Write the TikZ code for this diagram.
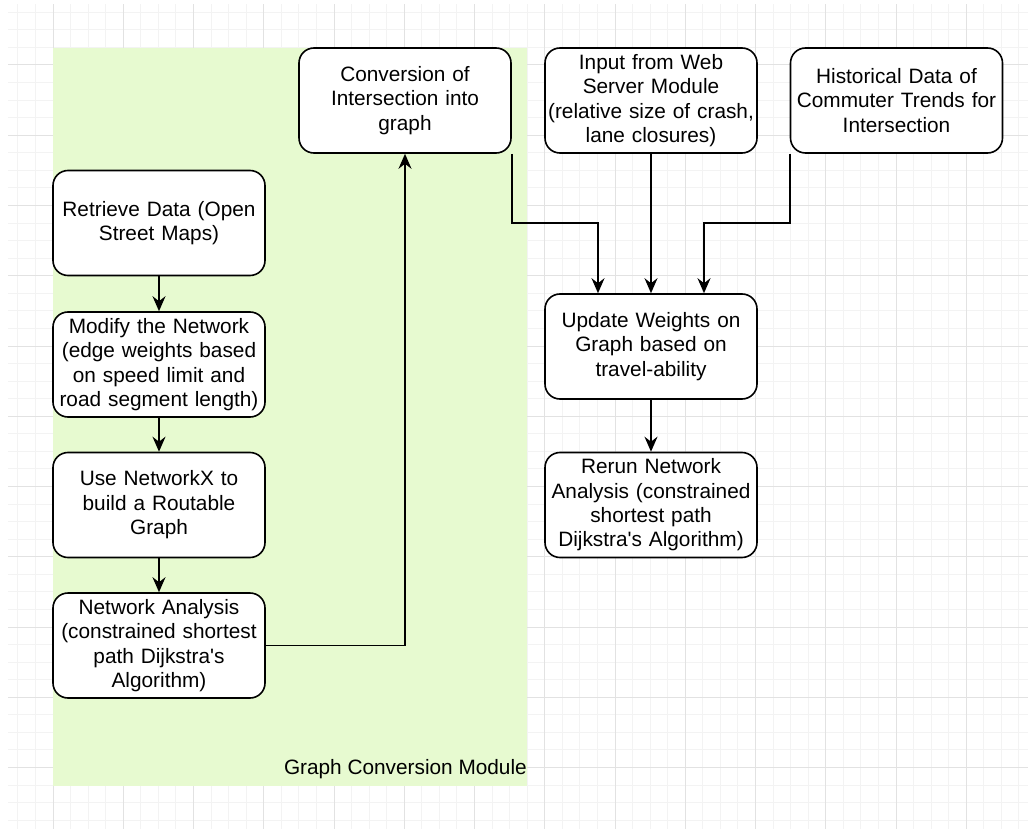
\documentclass[tikz,border=0pt]{standalone}
\usepackage{fontspec}
\setmainfont{Liberation Sans}[Ligatures=TeXOff]
\usetikzlibrary{arrows.meta}

\definecolor{modulegreen}{RGB}{231,250,208}
\definecolor{gridminor}{RGB}{243,243,243}
\definecolor{gridmajor}{RGB}{226,226,226}

\newcommand*\boxwidth{212pt}
\newcommand*\boxheight{105pt}
\newcommand*\gridstep{17.5625}
\tikzset{stage/.style={
    draw,
    line width=1.6pt,
    font=\fontsize{20.8}{24.4}\selectfont,
    rectangle,
    rounded corners=15pt,
    fill=white,
    inner sep=0pt,
    text width={\boxwidth-4pt},
    minimum width=\boxwidth,
    minimum height=\boxheight,
    align=center
},
link/.style={
    line width=1.6pt,
    -{Stealth[length=15pt,width=13pt,inset=5pt]}
}}

\begin{document}
\begin{tikzpicture}[y=-1pt,x=1pt]

    % Paper, fixed to the size of the screenshot.
    \fill[white, use as bounding box] (0,0) rectangle (1028,829);

    % Draw the grid: thin lines first, then every fourth one darker.
    \begin{scope}
    \clip (8,5) rectangle (1028,829);
    \foreach \k in {-3,...,56}
        \draw[gridminor, line width=1pt] ({53+\gridstep*\k},0) -- ({53+\gridstep*\k},829);
    \foreach \k in {-4,...,44}
        \draw[gridminor, line width=1pt] (0,{65+\gridstep*\k}) -- (1028,{65+\gridstep*\k});
    \foreach \k in {0,...,13}
        \draw[gridmajor, line width=1pt] ({53+4*\gridstep*\k},0) -- ({53+4*\gridstep*\k},829);
    \foreach \k in {-1,...,10}
        \draw[gridmajor, line width=1pt] (0,{65+4*\gridstep*\k}) -- (1028,{65+4*\gridstep*\k});
    \end{scope}

    % The module area.
    \fill[modulegreen] (53,48) rectangle (527,786);
    \node[anchor=east, inner sep=0pt, font=\fontsize{20.8}{24.4}\selectfont] (modulelabel)
        at (527,769) {Graph Conversion Module};

    % Left column, inside the module.
    \node[stage] (retrieve) at (159,223) {Retrieve Data (Open\\Street Maps)};
    \node[stage] (modify) at (159,364.5) {Modify the Network\\(edge weights based\\on speed limit and\\road segment length)};
    \node[stage] (networkx) at (159,505) {Use NetworkX to\\build a Routable\\Graph};
    \node[stage] (analysis) at (159,645.5) {Network Analysis\\(constrained shortest\\path Dijkstra's\\Algorithm)};

    % Top row.
    \node[stage] (conversion) at (405,100.5) {Conversion of\\Intersection into\\graph};
    \node[stage] (webinput) at (651,100.5) {Input from Web\\Server Module\\(relative size of crash,\\lane closures)};
    \node[stage] (history) at (896.5,100.5) {Historical Data of\\Commuter Trends for\\Intersection};

    % Right column.
    \node[stage] (update) at (651,346.5) {Update Weights on\\Graph based on\\travel-ability};
    \node[stage] (rerun) at (651,505) {Rerun Network\\Analysis (constrained\\shortest path\\Dijkstra's Algorithm)};

    % Connectors.
    \coordinate (leftbend) at (598,223);
    \coordinate (rightbend) at (704,223);
    \draw[link] (retrieve) -- (modify);
    \draw[link] (modify) -- (networkx);
    \draw[link] (networkx) -- (analysis);
    \draw[link] (analysis) -| (conversion);
    \draw[link] (conversion.south east) |- (leftbend) -- (leftbend |- update.north);
    \draw[link] (webinput) -- (update);
    \draw[link] (history.south west) |- (rightbend) -- (rightbend |- update.north);
    \draw[link] (update) -- (rerun);

\end{tikzpicture}
\end{document}
